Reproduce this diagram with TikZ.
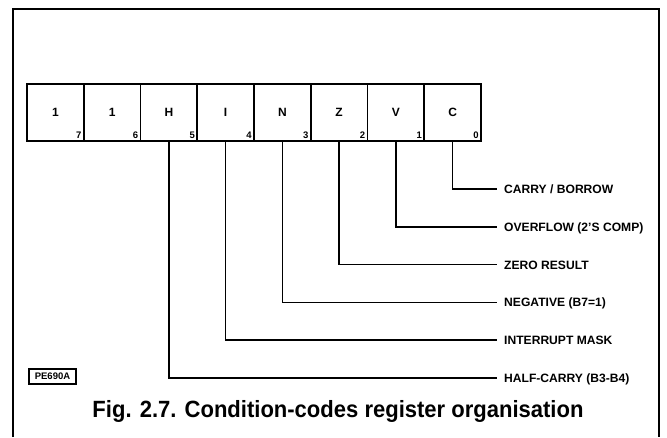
\documentclass[tikz,border=0pt]{standalone}
\usepackage{fontspec}
\setmainfont{Liberation Sans}
\begin{document}
\begin{tikzpicture}[x=1pt,y=-1pt,
  cell/.style={draw,line width=1.8pt,minimum width=56.75pt,minimum height=57pt,inner sep=0pt,
    font=\fontsize{12}{12}\selectfont\bfseries},
  bitno/.style={anchor=south east,inner sep=3pt,font=\fontsize{9.5}{9.5}\selectfont\bfseries},
  lab/.style={anchor=west,inner xsep=7pt,inner ysep=0pt,text height=8.8pt,text depth=0pt,
    font=\fontsize{12.1}{12.5}\selectfont\bfseries},
  conn/.style={line width=1.5pt},
  frame/.style={line width=1.3pt}]
\useasboundingbox (0,0) rectangle (667,437);
\draw[frame] (13,437) -- (13,9) -- (659,9) -- (659,437);
% register cells
\foreach \n/\t/\k in {c7/1/0,c6/1/1,c5/H/2,c4/I/3,c3/N/4,c2/Z/5,c1/V/6,c0/C/7}{
  \pgfmathtruncatemacro{\b}{7-\k}
  \node[cell,label={[bitno]south east:\b}] (\n) at ({27+56.75*(\k+0.5)},112.5) {\t};
}
% labels
\node[lab] (l0) at (497,189) {CARRY / BORROW};
\node[lab] (l1) at (497,226.8) {OVERFLOW (2'S COMP)};
\node[lab] (l2) at (497,264.6) {ZERO RESULT};
\node[lab] (l3) at (497,302.4) {NEGATIVE (B7=1)};
\node[lab] (l4) at (497,340.2) {INTERRUPT MASK};
\node[lab] (l5) at (497,378) {HALF-CARRY (B3-B4)};
% connectors
\foreach \i in {0,...,5}{
  \draw[conn] (c\i.south) |- (l\i.west);
}
% figure code
\node[draw,line width=1.1pt,minimum width=47pt,minimum height=15pt,inner sep=0pt,
  font=\fontsize{9.5}{9.5}\selectfont\bfseries] (code) at (52.5,376.5) {PE690A};
% caption
\node[inner sep=0pt,anchor=base] (cap) at (338,417)
  {\scalebox{0.937}[1]{\fontsize{23.5}{24}\selectfont\bfseries Fig. 2.7. Condition-codes register organisation}};
\end{tikzpicture}
\end{document}
